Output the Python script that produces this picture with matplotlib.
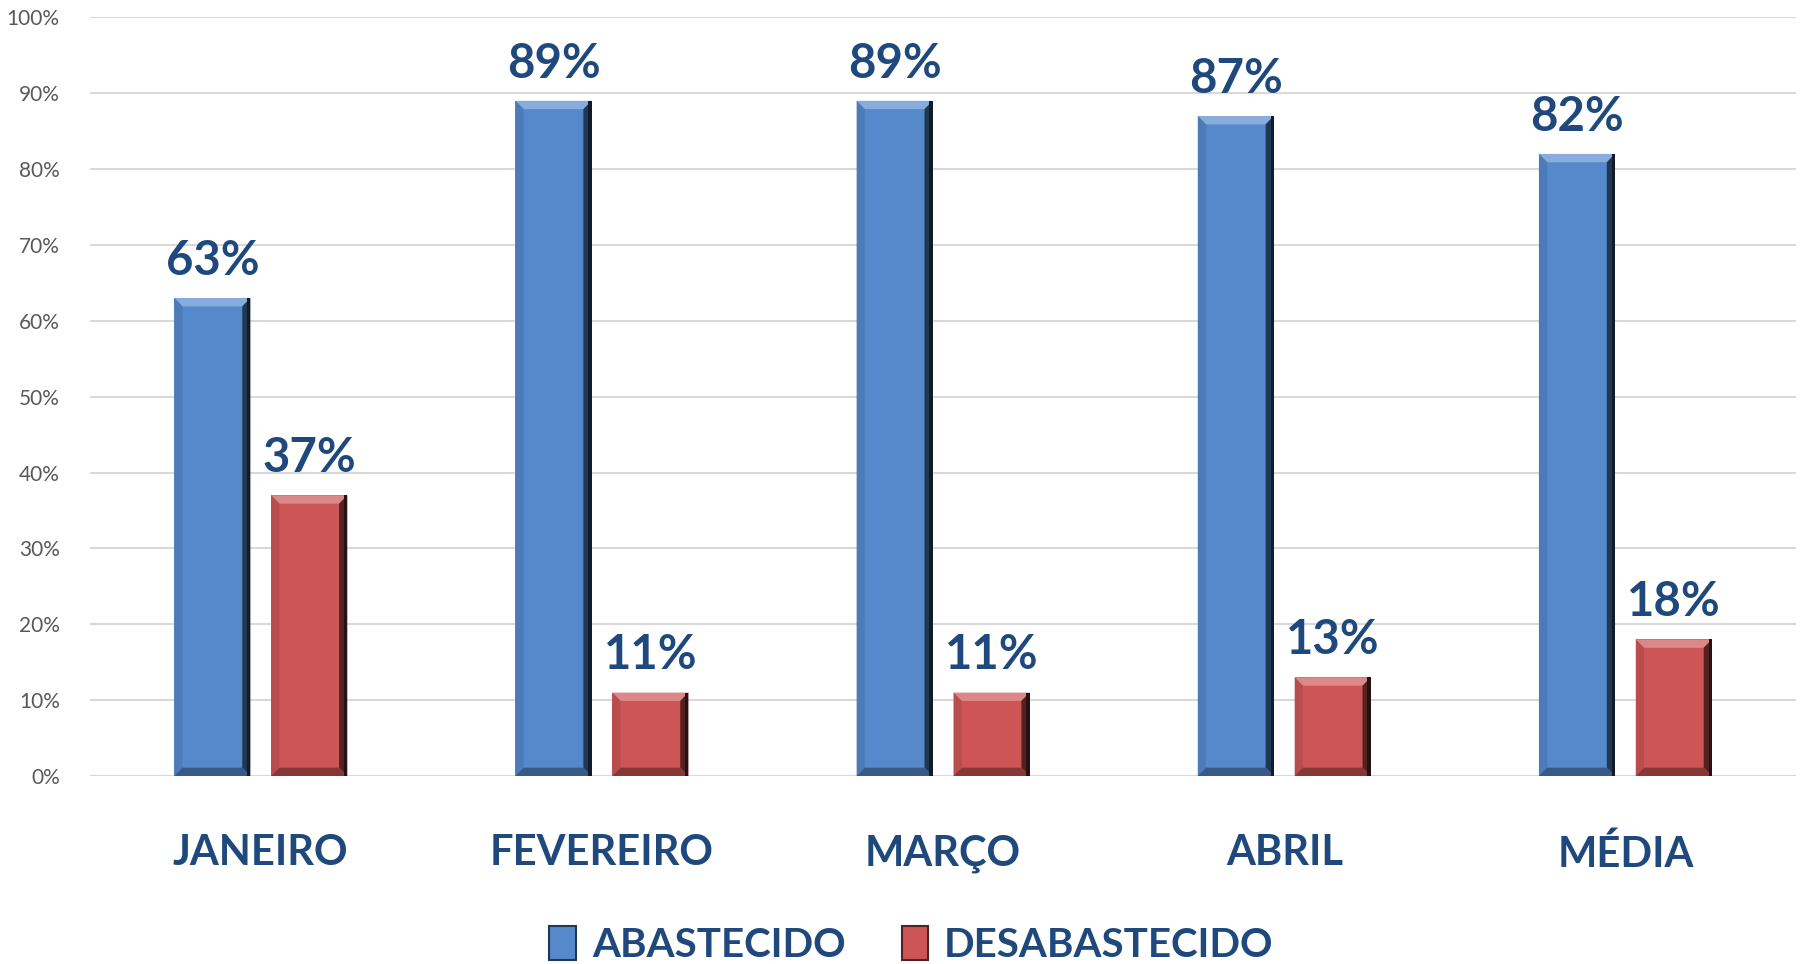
import numpy as np
import matplotlib
matplotlib.use("Agg")
from matplotlib import pyplot as plt
from matplotlib.patches import Polygon, Rectangle
from matplotlib.colors import to_rgb

plt.rcParams["font.family"] = ["Lato", "DejaVu Sans"]

meses = ["JANEIRO", "FEVEREIRO", "MARÇO", "ABRIL", "MÉDIA"]
abastecido = [63, 89, 89, 87, 82]
desabastecido = [37, 11, 11, 13, 18]
series = ["ABASTECIDO", "DESABASTECIDO"]

azul = "#5589CC"
vermelho = "#CE5555"
texto = "#1F497D"


def shade(c, f):
    r = np.array(to_rgb(c))
    if f > 0:
        return tuple(r + (1 - r) * f)
    return tuple(r * (1 + f))


def bevel(ax, rect, cor, bx=0.024, by=1.1):
    x, y, w, h = rect.get_x(), rect.get_y(), rect.get_width(), rect.get_height()
    x1, y1 = x + w, y + h
    # topo, esquerda, direita, base
    faces = [
        ([(x, y1), (x1, y1), (x1 - bx, y1 - by), (x + bx, y1 - by)], shade(cor, 0.3)),
        ([(x, y), (x, y1), (x + bx, y1 - by), (x + bx, y + by)], shade(cor, -0.1)),
        ([(x1, y), (x1, y1), (x1 - bx, y1 - by), (x1 - bx, y + by)], shade(cor, -0.6)),
        ([(x, y), (x1, y), (x1 - bx, y + by), (x + bx, y + by)], shade(cor, -0.35)),
    ]
    for pts, c in faces:
        ax.add_patch(Polygon(pts, closed=True, facecolor=c, edgecolor="none", zorder=3))
    ax.add_patch(Rectangle((x1 - bx * 0.4, y), bx * 0.4, h, facecolor=shade(cor, -0.8),
                           edgecolor="none", zorder=3))


fig = plt.figure(figsize=(18.05, 9.64), dpi=100)
ax = fig.add_axes([0.05, 0.195, 0.945, 0.787])

x = np.arange(len(meses))
w = 0.223
d = 0.142
b1 = ax.bar(x - d, abastecido, w, color=azul, zorder=2)
b2 = ax.bar(x + d, desabastecido, w, color=vermelho, zorder=2)

for bars, vals, cor in [(b1, abastecido, azul), (b2, desabastecido, vermelho)]:
    for r, v in zip(bars, vals):
        bevel(ax, r, cor)
        ax.text(r.get_x() + r.get_width() / 2, v + 2, f"{v}%", ha="center", va="bottom",
                fontsize=34, fontweight="bold", color=texto, zorder=4)

ax.set_xlim(-0.5, 4.5)
ax.set_ylim(0, 100)
ax.set_yticks(range(0, 101, 10))
ax.set_yticklabels([f"{v}%" for v in range(0, 101, 10)], fontsize=15, color="#595959")
ax.set_xticks(x)
ax.set_xticklabels(meses, fontsize=30, fontweight="bold", color=texto)
ax.tick_params(axis="x", length=0, pad=42)
ax.tick_params(axis="y", length=0, pad=22)
ax.grid(axis="y", color="#D9D9D9", linewidth=1.5, zorder=0)
ax.set_axisbelow(True)
for s in ax.spines.values():
    s.set_visible(False)

handles = [Rectangle((0, 0), 1, 1, facecolor=azul, edgecolor=shade(azul, -0.6), linewidth=1.5),
           Rectangle((0, 0), 1, 1, facecolor=vermelho, edgecolor=shade(vermelho, -0.6), linewidth=1.5)]
leg = fig.legend(handles, series, loc="center", bbox_to_anchor=(0.505, 0.02), ncol=2, frameon=False,
                 handlelength=0.65, handleheight=0.95, handletextpad=0.4, columnspacing=1.4,
                 prop={"size": 29, "weight": "bold"})
for t in leg.get_texts():
    t.set_color(texto)

plt.savefig("out.png")
